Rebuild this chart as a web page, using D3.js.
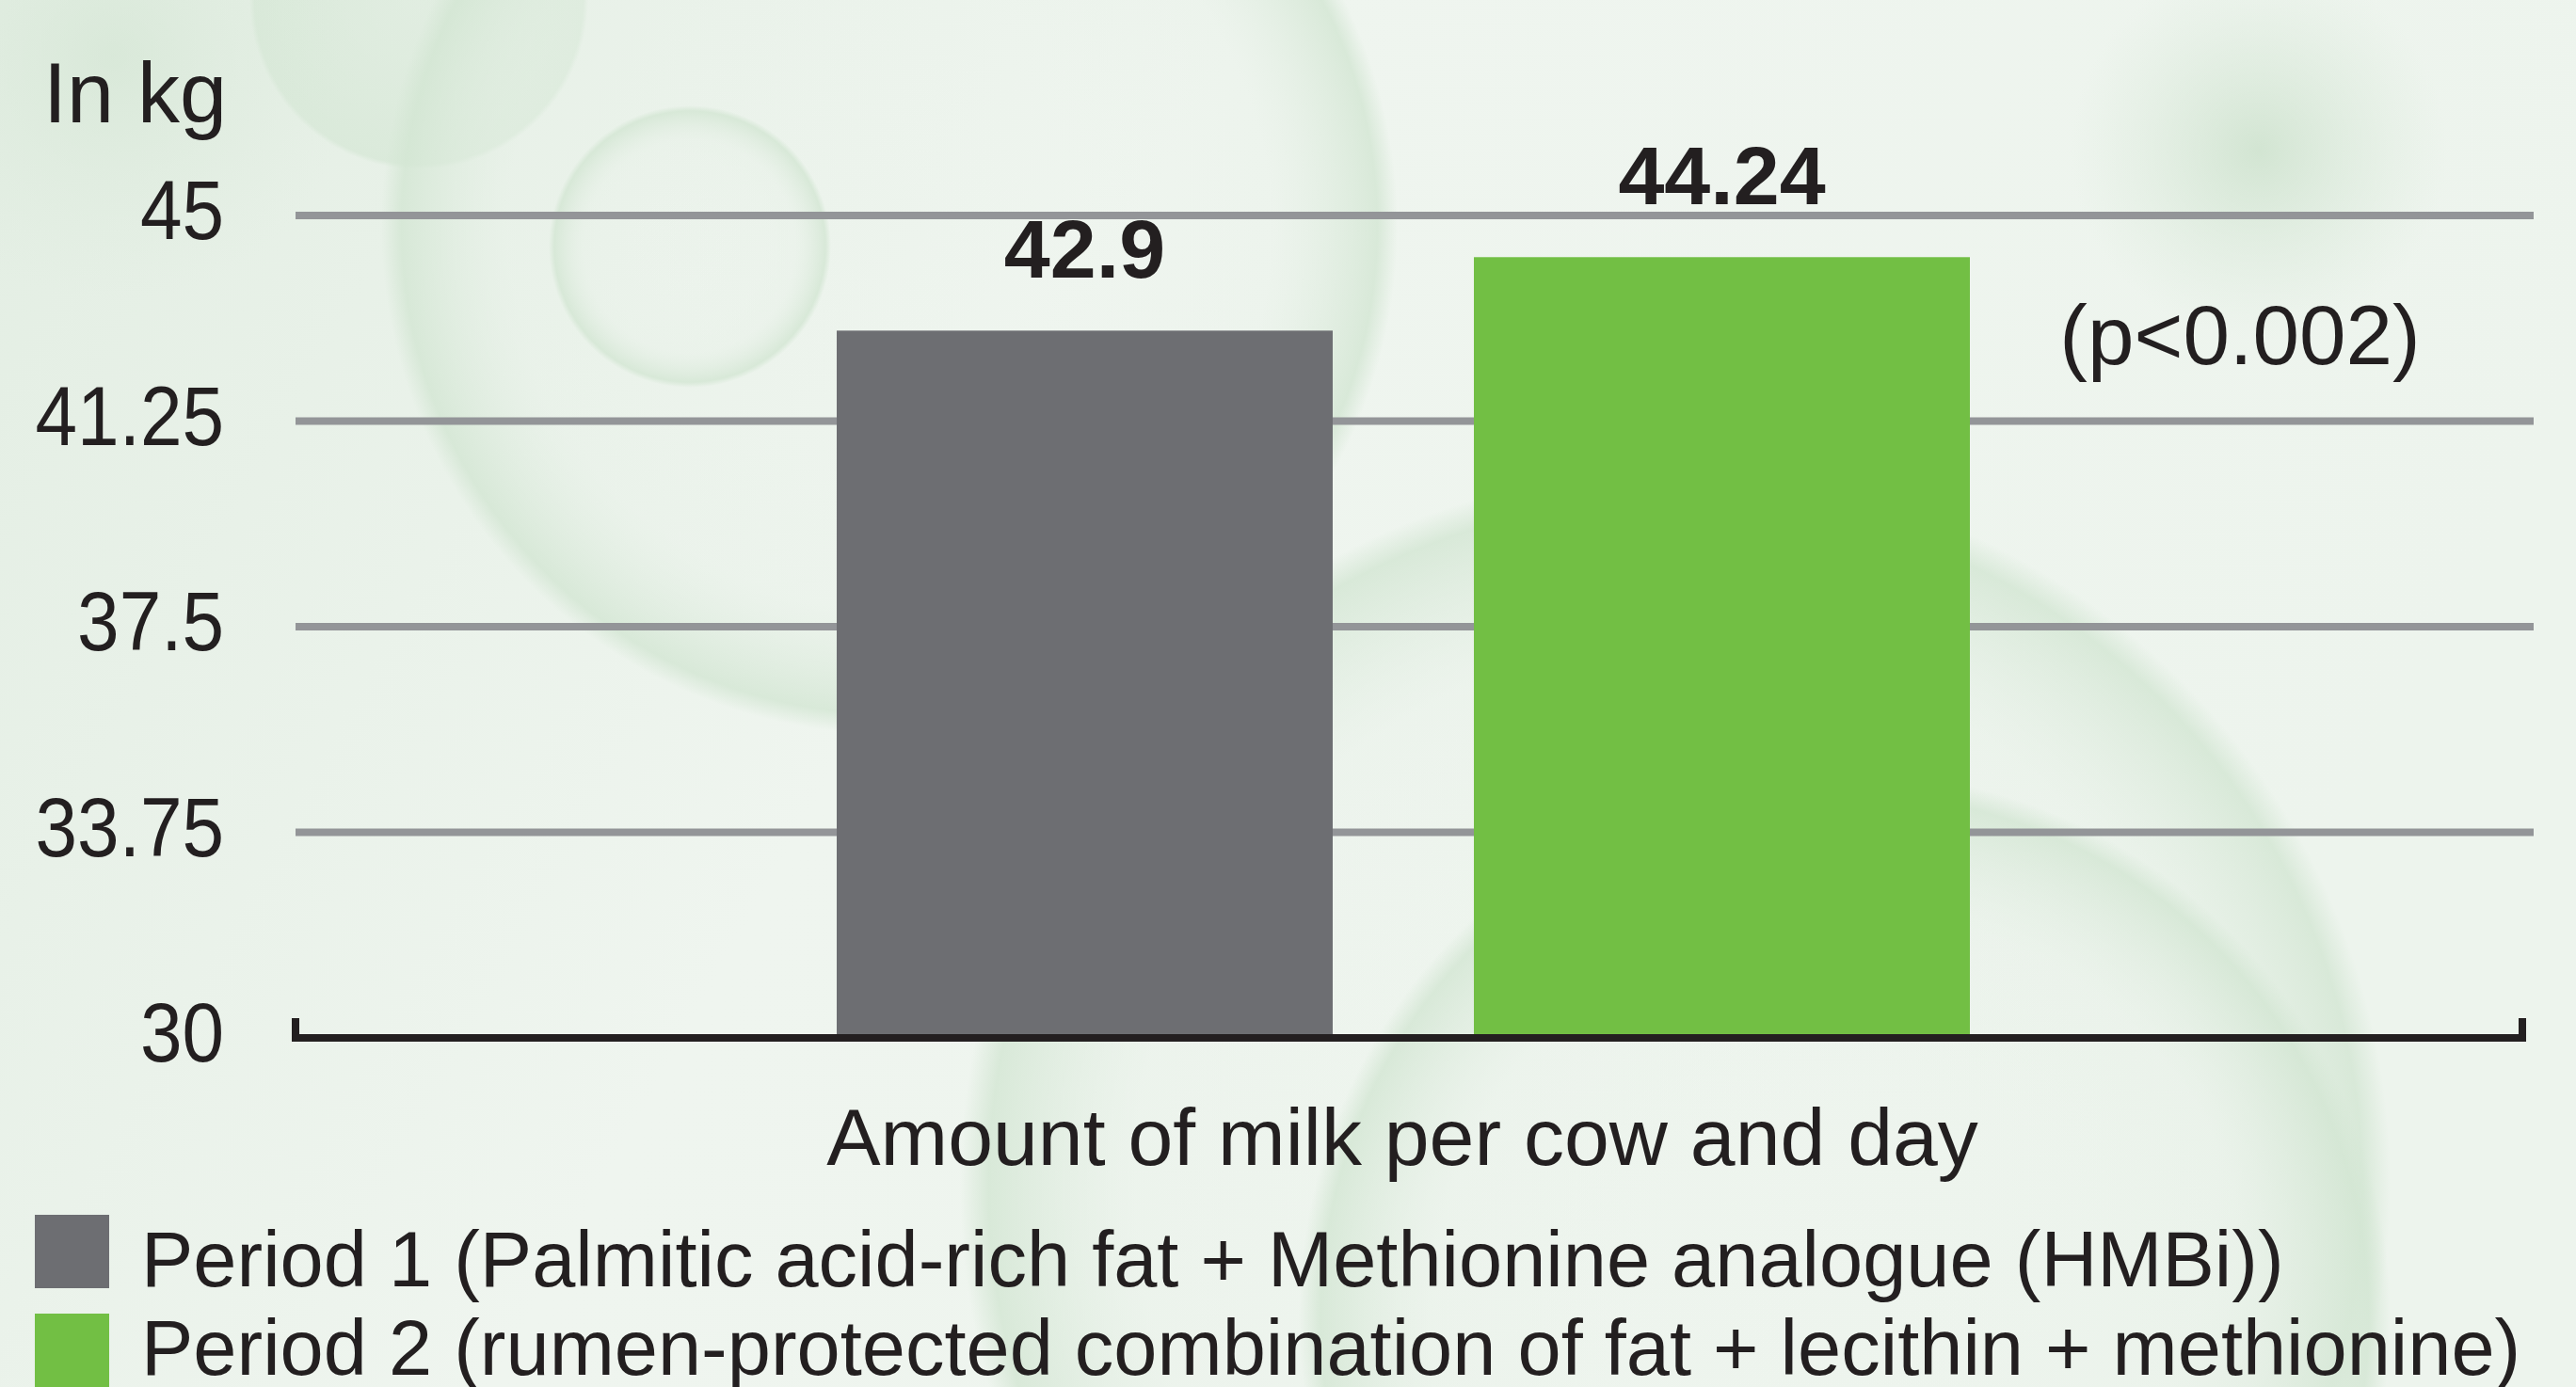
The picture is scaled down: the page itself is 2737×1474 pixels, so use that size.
<!DOCTYPE html>
<html>
<head>
<meta charset="utf-8">
<script src="https://cdn.jsdelivr.net/npm/d3@7"></script>
<style>
  html, body { margin: 0; padding: 0; overflow: hidden; background: #eef5ee; }
  text { font-family: "Liberation Sans", Arial, sans-serif; fill: #231f20; }
</style>
</head>
<body>
<div id="chart"></div>
<script>
// values
const categories = ['Period 1', 'Period 2'];
const values = [42.9, 44.24];
const valueLabels = ['42.9', '44.24'];
const tickValues = [30, 33.75, 37.5, 41.25, 45];
const tickLabels = ['30', '33.75', '37.5', '41.25', '45'];
const legendLabels = [
  'Period 1 (Palmitic acid-rich fat + Methionine analogue (HMBi))',
  'Period 2 (rumen-protected combination of fat + lecithin + methionine)'
];
const barColors = ['#6d6e72', '#72bf44'];

const width = 2737, height = 1474;
const svg = d3.select('#chart').append('svg')
  .attr('width', width)
  .attr('height', height);

// soft background with faint circles
const defs = svg.append('defs');
const bg = defs.append('linearGradient').attr('id', 'bg').attr('x1', 0).attr('y1', 0).attr('x2', 1).attr('y2', 0.3);
bg.append('stop').attr('offset', 0).attr('stop-color', '#e3eee3');
bg.append('stop').attr('offset', 0.45).attr('stop-color', '#eff5ef');
bg.append('stop').attr('offset', 1).attr('stop-color', '#edf4ed');

const ring = defs.append('radialGradient').attr('id', 'ring');
ring.append('stop').attr('offset', 0).attr('stop-color', '#f2f7f2').attr('stop-opacity', 0);
ring.append('stop').attr('offset', 0.75).attr('stop-color', '#e8f1e8').attr('stop-opacity', 0.3);
ring.append('stop').attr('offset', 0.96).attr('stop-color', '#d3e6d3').attr('stop-opacity', 0.8);
ring.append('stop').attr('offset', 1).attr('stop-color', '#d3e6d3').attr('stop-opacity', 0);

const blob = defs.append('radialGradient').attr('id', 'blob');
blob.append('stop').attr('offset', 0).attr('stop-color', '#cfe3cf').attr('stop-opacity', 0.9);
blob.append('stop').attr('offset', 1).attr('stop-color', '#dbeadb').attr('stop-opacity', 0);

const disc = defs.append('radialGradient').attr('id', 'disc');
disc.append('stop').attr('offset', 0).attr('stop-color', '#dbeadb').attr('stop-opacity', 0.5);
disc.append('stop').attr('offset', 0.97).attr('stop-color', '#d5e7d5').attr('stop-opacity', 0.7);
disc.append('stop').attr('offset', 1).attr('stop-color', '#d5e7d5').attr('stop-opacity', 0);

svg.append('rect').attr('width', width).attr('height', height).attr('fill', 'url(#bg)');
const deco = svg.append('g');
deco.append('circle').attr('cx', 445).attr('cy', 0).attr('r', 180).attr('fill', 'url(#disc)');
deco.append('circle').attr('cx', 945).attr('cy', 240).attr('r', 540).attr('fill', 'url(#ring)');
deco.append('circle').attr('cx', 733).attr('cy', 262).attr('r', 150).attr('fill', 'url(#ring)');
deco.append('circle').attr('cx', 1780).attr('cy', 1260).attr('r', 760).attr('fill', 'url(#ring)');
deco.append('circle').attr('cx', 1960).attr('cy', 1400).attr('r', 580).attr('fill', 'url(#ring)');
deco.append('circle').attr('cx', 2400).attr('cy', 160).attr('r', 200).attr('fill', 'url(#blob)');
deco.append('circle').attr('cx', 120).attr('cy', 60).attr('r', 260).attr('fill', 'url(#blob)').attr('opacity', 0.6);

// scales
const x0 = 314, x1 = 2692;
const y = d3.scaleLinear().domain([30, 45]).range([1103, 229]);
const x = d3.scaleBand().domain(categories).range([889, 2093]).paddingInner(0.2216);

// gridlines
svg.append('g').selectAll('line')
  .data(tickValues.filter(v => v > 30))
  .join('line')
  .attr('x1', x0).attr('x2', x1)
  .attr('y1', d => y(d)).attr('y2', d => y(d))
  .attr('stroke', '#939598')
  .attr('stroke-width', 8);

// tick labels (digits a bit narrower than Arial)
svg.append('g').selectAll('g')
  .data(tickValues)
  .join('g')
  .attr('transform', d => `translate(238,${y(d) - 6}) scale(0.9,1)`)
  .append('text')
  .attr('text-anchor', 'end')
  .attr('dy', '0.35em')
  .attr('font-size', 89)
  .text((d, i) => tickLabels[i]);

svg.append('text')
  .attr('x', 241).attr('y', 130)
  .attr('text-anchor', 'end')
  .attr('font-size', 90)
  .text('In kg');

// bars
svg.append('g').selectAll('rect')
  .data(values)
  .join('rect')
  .attr('x', (d, i) => x(categories[i]))
  .attr('width', x.bandwidth())
  .attr('y', d => y(d))
  .attr('height', d => y(30) - y(d))
  .attr('fill', (d, i) => barColors[i]);

svg.append('g').selectAll('text')
  .data(values)
  .join('text')
  .attr('x', (d, i) => x(categories[i]) + x.bandwidth() / 2)
  .attr('y', d => y(d) - 56)
  .attr('text-anchor', 'middle')
  .attr('font-size', 88)
  .attr('font-weight', 'bold')
  .text((d, i) => valueLabels[i]);

// baseline with end ticks
svg.append('path')
  .attr('d', `M${x0},1082V${y(30)}H${2680}V1082`)
  .attr('fill', 'none')
  .attr('stroke', '#231f20')
  .attr('stroke-width', 8);

svg.append('text')
  .attr('x', 2380).attr('y', 387)
  .attr('text-anchor', 'middle')
  .attr('font-size', 89)
  .text('(p<0.002)');

svg.append('text')
  .attr('x', 1490).attr('y', 1238)
  .attr('text-anchor', 'middle')
  .attr('font-size', 86)
  .text('Amount of milk per cow and day');

// legend
const legend = svg.append('g').selectAll('g')
  .data(legendLabels)
  .join('g');
legend.append('rect')
  .attr('x', 37).attr('y', (d, i) => 1291 + i * 105)
  .attr('width', 79).attr('height', 78)
  .attr('fill', (d, i) => barColors[i]);
legend.append('text')
  .attr('x', 150).attr('y', (d, i) => 1367 + i * 94)
  .attr('font-size', 83)
  .text(d => d);
</script>
</body>
</html>
